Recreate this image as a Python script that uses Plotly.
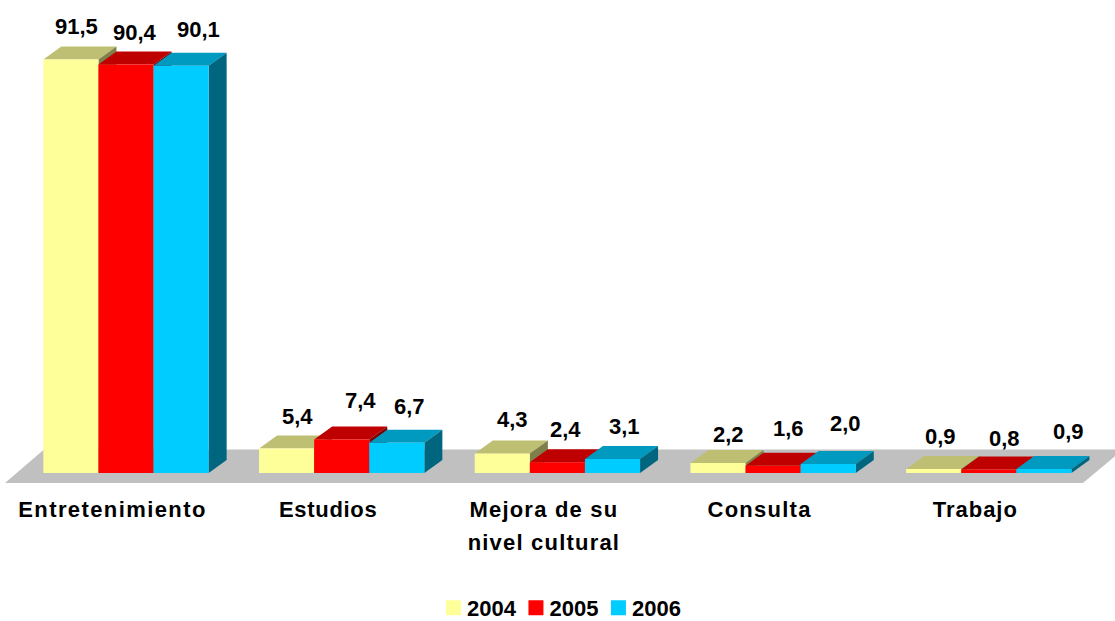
import plotly.graph_objects as go

categories = ["Entretenimiento", "Estudios", "Mejora de su<br>nivel cultural", "Consulta", "Trabajo"]
years = ["2004", "2005", "2006"]
v2004 = [91.5, 5.4, 4.3, 2.2, 0.9]
v2005 = [90.4, 7.4, 2.4, 1.6, 0.8]
v2006 = [90.1, 6.7, 3.1, 2.0, 0.9]
labels2004 = ["91,5", "5,4", "4,3", "2,2", "0,9"]
labels2005 = ["90,4", "7,4", "2,4", "1,6", "0,8"]
labels2006 = ["90,1", "6,7", "3,1", "2,0", "0,9"]

# styles
front = ["#FFFF99", "#FF0000", "#00CCFF"]
top = ["#BFBF73", "#BF0000", "#0099BF"]
side = ["#7F7F4C", "#7F0000", "#00667F"]
W, H = 1115, 621
PX_X = 215.7       # px per category
PX_Y = 4.52        # px per value unit
X0, Y0 = 126, 473
BAR = 55.1 / PX_X
DX, DY = 18 / PX_X, 13 / PX_Y
shift_x = [[6, 11, 10, 10, 7], [9, 19, 8, 15, 16], [17, 13, 12, 17, 25]]
shift_y = [[33.4, 31.6, 33.6, 29, 32], [31.4, 38.6, 32.2, 36.8, 30.4], [36.7, 36.7, 32, 40, 37]]

series = [v2004, v2005, v2006]
texts = [labels2004, labels2005, labels2006]
fig = go.Figure()
annotations = []
positions = list(range(len(categories)))
for s, vals in enumerate(series):
    xs = [i + (s - 1) * BAR for i in positions]
    for x, v in zip(xs, vals):
        l, r = x - BAR / 2, x + BAR / 2
        fig.add_trace(go.Scatter(x=[l, r, r + DX, l + DX, l], y=[v, v, v + DY, v + DY, v],
                                 mode="none", fill="toself", fillcolor=top[s], showlegend=False,
                                 hoverinfo="skip", zorder=2 * s + 1))
        fig.add_trace(go.Scatter(x=[r, r + DX, r + DX, r, r], y=[0, DY, v + DY, v, 0],
                                 mode="none", fill="toself", fillcolor=side[s], showlegend=False,
                                 hoverinfo="skip", zorder=2 * s + 1))
    fig.add_trace(go.Bar(x=xs, y=vals, width=BAR, name=years[s], marker=dict(color=front[s], line_width=0),
                         zorder=2 * s + 2))
    for i, (x, v) in enumerate(zip(xs, vals)):
        annotations.append(dict(x=x, y=v, text=texts[s][i], showarrow=False, xanchor="center", yanchor="middle",
                                xshift=shift_x[s][i], yshift=shift_y[s][i],
                                font=dict(family="Liberation Sans", size=22, color="#000000", weight="bold")))

floor_paper = "M %f %f L %f %f L %f %f L %f %f Z" % (5 / W, 1 - 483 / H, 44 / W, 1 - 449.5 / H, 1123 / W, 1 - 449.5 / H, 1083 / W, 1 - 483 / H)

fig.update_layout(
    width=W, height=H, margin=dict(l=0, r=0, t=0, b=0), paper_bgcolor="white", plot_bgcolor="rgba(0,0,0,0)",
    barmode="overlay", annotations=annotations,
    shapes=[dict(type="path", path=floor_paper, xref="paper", yref="paper", fillcolor="#C0C0C0", line_width=0, layer="below")],
    xaxis=dict(range=[-X0 / PX_X, (W - X0) / PX_X], tickmode="array",
               tickvals=[i - 13.5 / PX_X for i in positions], ticktext=categories,
               showgrid=False, zeroline=False, showline=False, ticks="",
               anchor="free", position=(H - Y0) / H, ticklabelstandoff=21,
               tickfont=dict(family="Liberation Sans", size=22, color="#000000", weight="bold")),
    yaxis=dict(range=[-(H - Y0) / PX_Y, Y0 / PX_Y], visible=False),
    legend=dict(orientation="h", x=(446 + 2.5) / W - 0.0135, xanchor="left", y=0.0, yanchor="bottom", traceorder="normal",
                entrywidth=37.5, entrywidthmode="pixels", bgcolor="rgba(0,0,0,0)",
                font=dict(family="Liberation Sans", size=22, color="#000000", weight="bold")),
    showlegend=True,
)
post = """
document.body.style.margin='0';document.body.style.overflow='hidden';
var sp=[1.4,0.7,1.2,1.25,1.0];
document.querySelectorAll('.xtick text').forEach(function(t,i){
  t.style.letterSpacing=sp[i]+'px';
  t.querySelectorAll('tspan.line').forEach(function(ts,j){
    if(j==1){ts.setAttribute('y',parseFloat(ts.getAttribute('y'))+4);}
  });
});
document.querySelectorAll('.legendtext').forEach(function(t){
  var nx=parseFloat(t.getAttribute('x'))-6.5; t.setAttribute('x',nx);
});
document.querySelectorAll('.legendpoints path').forEach(function(p){
  p.setAttribute('d','M7.5,7.5H-7.5V-7.5H7.5Z');
});
var lg=document.querySelector('g.legend');
var m=/translate\\(([-\\d.]+)[ ,]+([-\\d.]+)\\)/.exec(lg.getAttribute('transform'));
lg.setAttribute('transform','translate('+m[1]+','+(parseFloat(m[2])+8)+')');
"""
fig.write_html("out.html", post_script=post, config={"displayModeBar": False})
